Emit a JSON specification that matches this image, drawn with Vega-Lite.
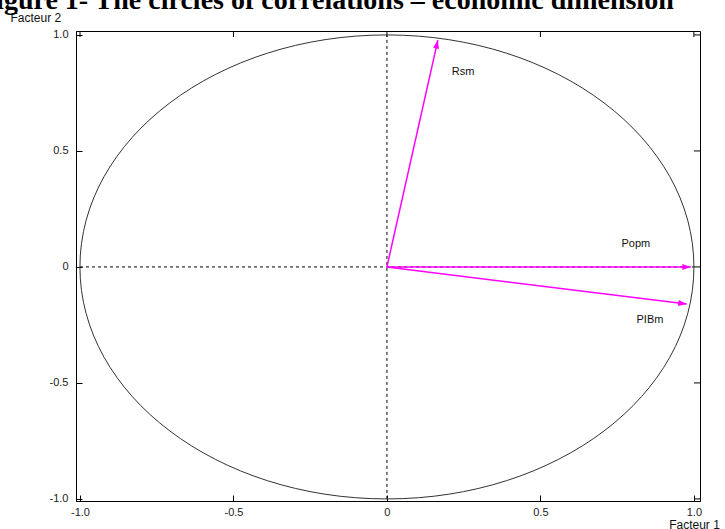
{
  "$schema": "https://vega.github.io/schema/vega-lite/v6.json",
  "width": 624,
  "height": 470,
  "autosize": "none",
  "padding": {"left": 76, "top": 31, "right": 25, "bottom": 28},
  "background": "white",
  "title": {
    "text": "Figure 1- The circles of correlations – economic dimension",
    "font": "Liberation Serif",
    "fontWeight": "bold",
    "fontSize": 28,
    "color": "black",
    "anchor": "start",
    "frame": "group",
    "baseline": "alphabetic",
    "offset": -26,
    "dx": -97
  },
  "config": {
    "view": {"stroke": "black"},
    "axis": {
      "grid": false,
      "domainColor": "black",
      "tickColor": "black",
      "labelFont": "Liberation Sans",
      "labelFontSize": 11,
      "labelColor": "#222",
      "titleFont": "Liberation Sans",
      "titleFontSize": 12,
      "titleFontWeight": "normal",
      "titleColor": "#111"
    }
  },
  "layer": [
    {
      "data": {"values": [
        {"x1": -1, "x2": 1, "y1": 0, "y2": 0},
        {"x1": 0, "x2": 0, "y1": -1, "y2": 1}
      ]},
      "mark": {"type": "rule", "color": "black", "strokeWidth": 1, "strokeDash": [3, 3]},
      "encoding": {
        "x": {"field": "x1", "type": "quantitative",
          "scale": {"domain": [-1.013, 1.02], "nice": false, "zero": false},
          "axis": {"orient": "bottom", "values": [-1, -0.5, 0, 0.5, 1], "tickSize": -6, "labelPadding": 11,
            "labelExpr": "datum.value == 0 ? '0' : (datum.value < 0 ? '-' : '') + format(abs(datum.value), '.1f')",
            "title": "Facteur 1", "titleX": 618, "titleY": 23, "titleAlign": "center", "titleBaseline": "middle"}},
        "x2": {"field": "x2"},
        "y": {"field": "y1", "type": "quantitative",
          "scale": {"domain": [-1.009, 1.017], "nice": false, "zero": false},
          "axis": {"orient": "left", "values": [-1, -0.5, 0, 0.5, 1], "tickSize": -6, "labelPadding": 14,
            "labelExpr": "datum.value == 0 ? '0' : (datum.value < 0 ? '-' : '') + format(abs(datum.value), '.1f')",
            "title": "Facteur 2", "titleAngle": 0, "titleX": -66, "titleY": -14, "titleAlign": "left", "titleBaseline": "middle"}},
        "y2": {"field": "y2"}
      }
    },
    {
      "data": {"values": [{"t": -1}, {"t": -0.5}, {"t": 0}, {"t": 0.5}, {"t": 1}]},
      "mark": {"type": "tick", "orient": "vertical", "size": 12, "thickness": 1, "color": "black", "opacity": 1, "clip": true},
      "encoding": {
        "x": {"field": "t", "type": "quantitative"},
        "y": {"datum": 1.017, "type": "quantitative"}
      }
    },
    {
      "data": {"values": [{"t": -1}, {"t": -0.5}, {"t": 0}, {"t": 0.5}, {"t": 1}]},
      "mark": {"type": "tick", "orient": "horizontal", "size": 12, "thickness": 1, "color": "black", "opacity": 1, "clip": true},
      "encoding": {
        "y": {"field": "t", "type": "quantitative"},
        "x": {"datum": 1.02, "type": "quantitative"}
      }
    },
    {
      "data": {"values": [{"cx": 0, "cy": 0}]},
      "mark": {
        "type": "point",
        "shape": "M1,0 C1,0.4174 0.5523,0.7557 0,0.7557 C-0.5523,0.7557 -1,0.4174 -1,0 C-1,-0.4174 -0.5523,-0.7557 0,-0.7557 C0.5523,-0.7557 1,-0.4174 1,0 Z",
        "size": 376996,
        "filled": false,
        "stroke": "#333",
        "strokeWidth": 1,
        "opacity": 1
      },
      "encoding": {
        "x": {"field": "cx", "type": "quantitative"},
        "y": {"field": "cy", "type": "quantitative"}
      }
    },
    {
      "data": {"values": [
        {"var": "Rsm", "x": 0.166, "y": 0.978},
        {"var": "Popm", "x": 0.99, "y": 0.0},
        {"var": "PIBm", "x": 0.977, "y": -0.16}
      ]},
      "mark": {"type": "rule", "color": "#ff00ff", "strokeWidth": 1.5},
      "encoding": {
        "x": {"field": "x", "type": "quantitative"},
        "y": {"field": "y", "type": "quantitative"},
        "x2": {"datum": 0},
        "y2": {"datum": 0}
      }
    },
    {
      "data": {"values": [{"var": "Rsm", "x": 0.166, "y": 0.978}]},
      "mark": {"type": "point", "shape": "M0,0 L-0.6,1.7 L0.6,1.7 Z", "size": 100, "filled": true, "fill": "#ff00ff", "strokeWidth": 0, "opacity": 1, "angle": 12.7},
      "encoding": {
        "x": {"field": "x", "type": "quantitative"},
        "y": {"field": "y", "type": "quantitative"}
      }
    },
    {
      "data": {"values": [{"var": "Popm", "x": 0.99, "y": 0.0}]},
      "mark": {"type": "point", "shape": "M0,0 L-0.6,1.7 L0.6,1.7 Z", "size": 100, "filled": true, "fill": "#ff00ff", "strokeWidth": 0, "opacity": 1, "angle": 90},
      "encoding": {
        "x": {"field": "x", "type": "quantitative"},
        "y": {"field": "y", "type": "quantitative"}
      }
    },
    {
      "data": {"values": [{"var": "PIBm", "x": 0.977, "y": -0.16}]},
      "mark": {"type": "point", "shape": "M0,0 L-0.6,1.7 L0.6,1.7 Z", "size": 100, "filled": true, "fill": "#ff00ff", "strokeWidth": 0, "opacity": 1, "angle": 97},
      "encoding": {
        "x": {"field": "x", "type": "quantitative"},
        "y": {"field": "y", "type": "quantitative"}
      }
    },
    {
      "data": {"values": [
        {"var": "Rsm", "lx": 0.248, "ly": 0.84},
        {"var": "Popm", "lx": 0.811, "ly": 0.099},
        {"var": "PIBm", "lx": 0.857, "ly": -0.228}
      ]},
      "mark": {"type": "text", "font": "Liberation Sans", "fontSize": 11, "color": "#111"},
      "encoding": {
        "x": {"field": "lx", "type": "quantitative"},
        "y": {"field": "ly", "type": "quantitative"},
        "text": {"field": "var", "type": "nominal"}
      }
    }
  ]
}
